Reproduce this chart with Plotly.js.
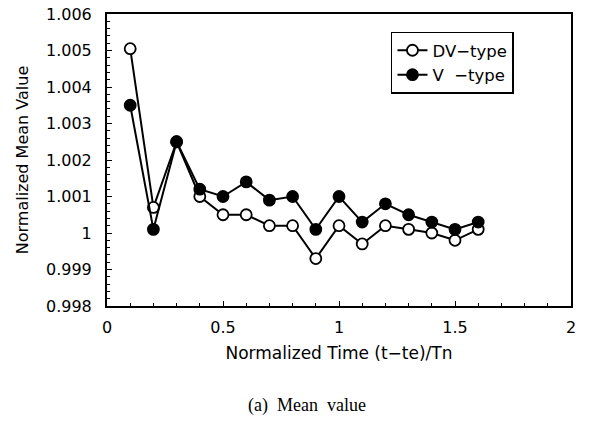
<!DOCTYPE html>
<html><head><meta charset="utf-8">
<script src="https://cdn.plot.ly/plotly-3.0.1.min.js"></script>
<style>html,body{margin:0;padding:0;background:#fff}#c{width:601px;height:428px}</style>
</head><body><div id="c"></div>
<script>
var xTime = [0.1,0.2,0.3,0.4,0.5,0.6,0.7,0.8,0.9,1.0,1.1,1.2,1.3,1.4,1.5,1.6];
var dvType = [1.00505,1.0007,1.0025,1.0010,1.0005,1.0005,1.0002,1.0002,0.9993,1.0002,0.9997,1.0002,1.0001,1.0000,0.9998,1.0001];
var vType  = [1.0035,1.0001,1.0025,1.0012,1.0010,1.0014,1.0009,1.0010,1.0001,1.0010,1.0003,1.0008,1.0005,1.0003,1.0001,1.0003];
var yTickVals = [0.998,0.999,1,1.001,1.002,1.003,1.004,1.005,1.006];
var yTickText = ['0.998','0.999','1','1.001','1.002','1.003','1.004','1.005','1.006'];
var xTickVals = [0,0.5,1,1.5,2];
var xTickText = ['0','0.5','1','1.5','2'];

var fam = 'DejaVu Sans, Verdana, sans-serif';
var traces = [
 {x:xTime, y:dvType, name:'DV\u2212type', mode:'lines+markers',
  line:{color:'#000', width:2},
  marker:{symbol:'circle', size:11, color:'#fff', line:{color:'#000', width:1.8}}},
 {x:xTime, y:vType, name:'V  \u2212type', mode:'lines+markers',
  line:{color:'#000', width:2},
  marker:{symbol:'circle', size:11, color:'#000', line:{color:'#000', width:1.8}}}
];
var layout = {
 width:601, height:428, paper_bgcolor:'#fff', plot_bgcolor:'#fff',
 margin:{l:107, r:30, t:14, b:122},
 font:{family:fam, size:16, color:'#000'}, showlegend:true,
 legend:{x:0.612, y:0.94, xanchor:'left', yanchor:'top', bgcolor:'#fff',
   bordercolor:'#000', borderwidth:1.5, tracegroupgap:0,
   font:{family:fam, size:16.5, color:'#000'}},
 xaxis:{range:[0,2], tickvals:xTickVals, ticktext:xTickText, ticks:'inside', ticklen:5,
   tickcolor:'#000', showline:true, linecolor:'#000', linewidth:2, mirror:true,
   showgrid:false, zeroline:false, ticklabelstandoff:6,
   tickfont:{family:fam, size:16, color:'#000'},
   minor:{dtick:0.1, ticks:'inside', ticklen:3, tickcolor:'#000'},
   title:{text:'Normalized Time (t\u2212te)/Tn', font:{family:fam,size:17,color:'#000'}, standoff:11}},
 yaxis:{range:[0.998,1.006], tickvals:yTickVals, ticktext:yTickText, ticks:'inside', ticklen:5,
   tickcolor:'#000', showline:true, linecolor:'#000', linewidth:2, mirror:true,
   showgrid:false, zeroline:false, ticklabelstandoff:10,
   tickfont:{family:fam, size:16, color:'#000'},
   minor:{dtick:0.0002, ticks:'inside', ticklen:3, tickcolor:'#000'},
   title:{text:'Normalized Mean Value', font:{family:fam,size:16,color:'#000'}, standoff:13}},
 annotations:[{text:'(a)  Mean  value', xref:'paper', yref:'paper', x:0.43, y:-0.34,
   xanchor:'center', yanchor:'middle', showarrow:false,
   font:{family:'Liberation Serif, Times New Roman, serif', size:18, color:'#000'}}]
};
Plotly.newPlot('c', traces, layout, {displayModeBar:false, staticPlot:true});
</script></body></html>
